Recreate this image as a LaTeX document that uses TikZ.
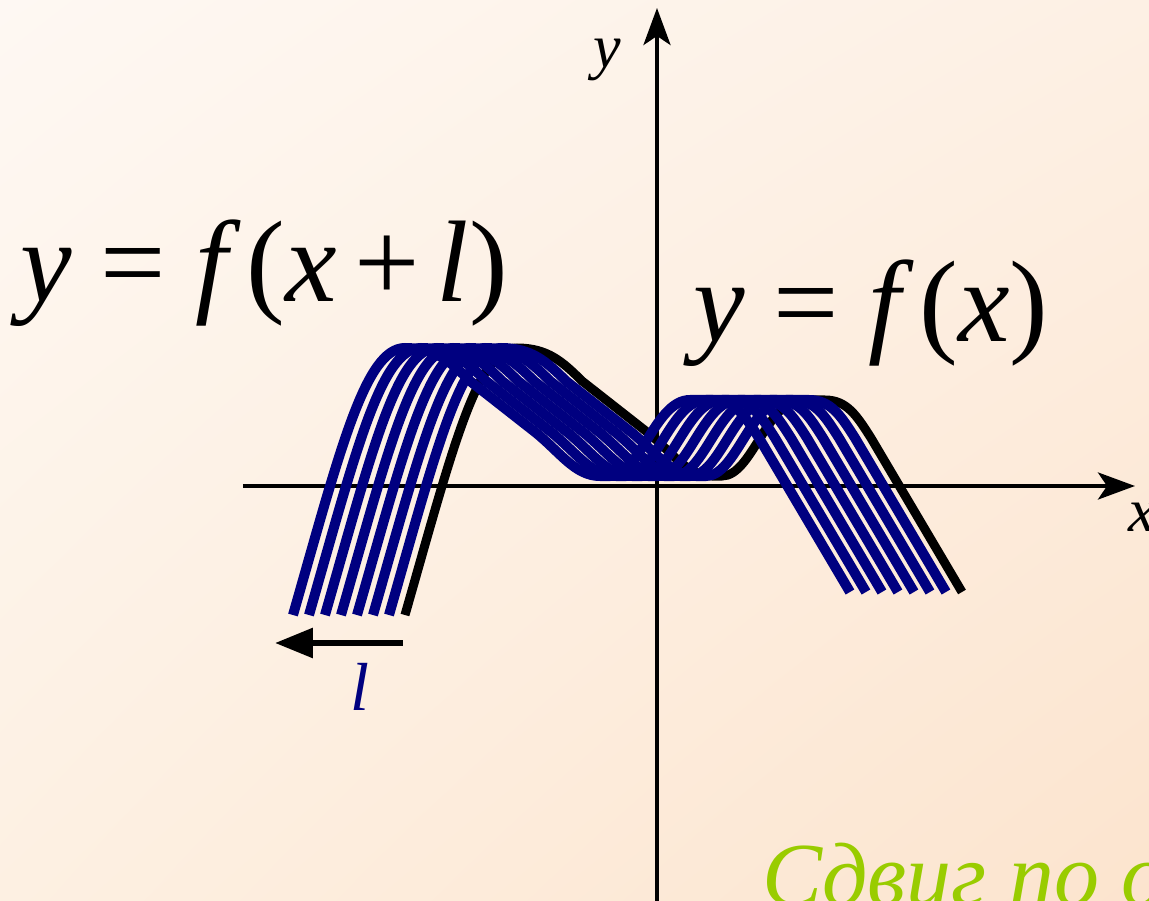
\documentclass[tikz,border=0pt]{standalone}
\usepackage{fontspec}
\setmainfont{Liberation Serif}
\usetikzlibrary{arrows.meta, math, shadings}
\definecolor{mynavy}{RGB}{0,0,128}
\definecolor{mygreen}{RGB}{153,204,0}
\definecolor{bgtl}{RGB}{254,248,243}
\definecolor{bgtr}{RGB}{253,240,228}
\definecolor{bgbl}{RGB}{253,240,226}
\definecolor{bgbr}{RGB}{252,228,206}

% the graph of f
\newcommand{\fgraph}[1]{%
\draw[#1] (-252,-129) .. controls (-205,35) and (-180,138) .. (-140,138)
  .. controls (-110,138) and (-95,125) .. (-75,105) -- (-10,54)
  .. controls (15,34) and (30,10) .. (55,10) -- (65,10)
  .. controls (95,10) and (110,86) .. (145,86) -- (168,86)
  .. controls (190,86) and (200,70) .. (214,48) -- (305,-106);
}

\begin{document}
\begin{tikzpicture}[x=1pt,y=1pt,
  axis/.style={line width=4pt,-{Stealth[length=37pt,width=27pt,inset=9pt]}},
  graphblk/.style={line width=9pt,black},
  graphblue/.style={line width=10pt,mynavy},
  lbl/.style={inner sep=0pt,anchor=base}]
\tikzmath{
\dl=16;
\n=7;
}
\useasboundingbox (-657,-414) rectangle (492,486);
\shade[upper left=bgtl, upper right=bgtr, lower left=bgbl, lower right=bgbr]
  (-657,-414) rectangle (492,486);

% axes
\coordinate (xs) at (-414,0);
\coordinate (xe) at (478,0);
\coordinate (ys) at (0,-420);
\coordinate (ye) at (0,478);
\draw[axis] (xs) -- (xe);
\draw[axis] (ys) -- (ye);
\node[lbl,font=\fontsize{62}{66}\selectfont\itshape] (xlbl) at (485,-45) {x};
\node[lbl,font=\fontsize{62}{66}\selectfont\itshape] (ylbl) at (-50,418) {y};

% graph and its shifted copies
\fgraph{graphblk}
\foreach \s in {1,...,\n}{
\begin{scope}[xshift=-\s*\dl]
\fgraph{graphblue}
\end{scope}
}

% shift arrow
\coordinate (lstart) at (-254,-157);
\coordinate (lend) at (-382,-157);
\draw[line width=6pt,-{Triangle[length=38pt,width=29pt]}] (lstart) -- (lend);
\node[lbl,font=\fontsize{68}{72}\selectfont\itshape,text=mynavy] (llbl) at (-297,-224) {l};

% formulas
\node[lbl,font=\fontsize{116}{122}\selectfont] (eqshift) at (-393,184)
  {{\itshape y} = {\itshape f}\,({\itshape x}\hspace{0.15em}+\hspace{0.15em}{\itshape l})};
\node[lbl,font=\fontsize{116}{122}\selectfont] (eqorig) at (214,144)
  {{\itshape y} = {\itshape f}\,({\itshape x})};

\node[inner sep=0pt,anchor=base west,font=\fontsize{90}{94}\selectfont\itshape,text=mygreen]
  (caption) at (105,-419) {Сдвиг по о};
\end{tikzpicture}
\end{document}
